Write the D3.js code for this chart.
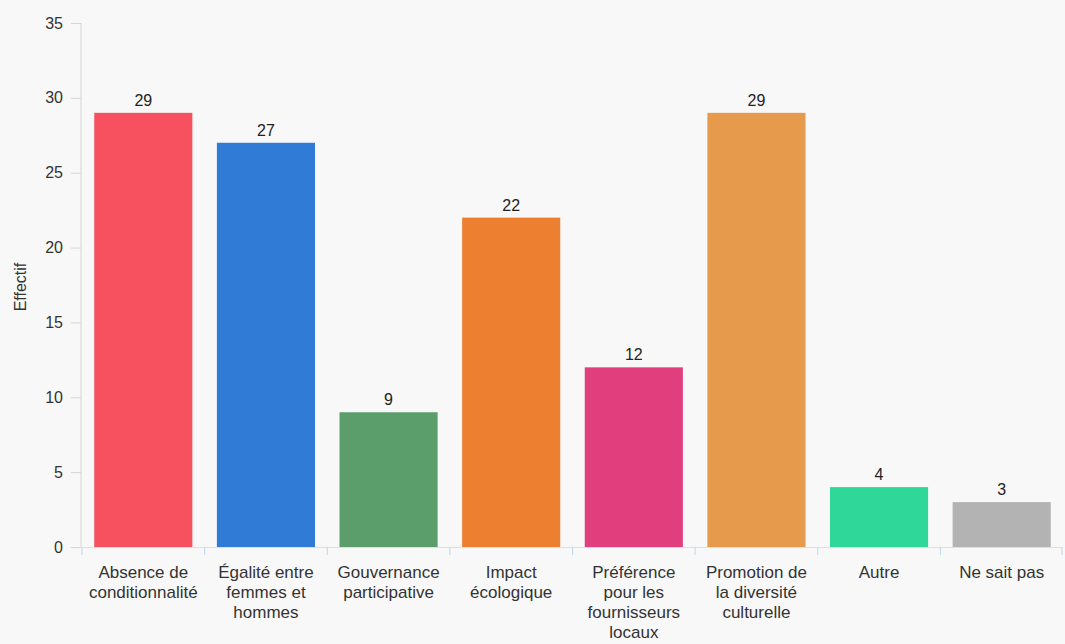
<!DOCTYPE html>
<html>
<head>
<meta charset="utf-8">
<script src="https://cdn.jsdelivr.net/npm/d3@7"></script>
<style>
  html, body { margin: 0; padding: 0; background: #f8f8f8; }
  svg { display: block; font-family: "Liberation Sans", Arial, sans-serif; }
</style>
</head>
<body>
<svg id="chart" width="1065" height="644"></svg>
<script>
// Category labels, one entry per bar (lines split for wrapping)
const categories = [
  ["Absence de", "conditionnalité"],
  ["Égalité entre", "femmes et", "hommes"],
  ["Gouvernance", "participative"],
  ["Impact", "écologique"],
  ["Préférence", "pour les", "fournisseurs", "locaux"],
  ["Promotion de", "la diversité", "culturelle"],
  ["Autre"],
  ["Ne sait pas"]
];
const counts = [29, 27, 9, 22, 12, 29, 4, 3];
const barColors = ["#f7505f", "#2f7bd6", "#5b9e6b", "#ec7f30", "#e03e7c", "#e69a4b", "#2fd898", "#b3b3b3"];
const yTicks = [0, 5, 10, 15, 20, 25, 30, 35];
const yTitle = "Effectif";

const svg = d3.select("#chart");
const margin = { top: 23, left: 82, right: 2, bottom: 97 };
const W = 1065, H = 644;

const keys = categories.map((c, i) => i);
const x = d3.scaleBand().domain(keys).range([margin.left, W - margin.right]).paddingInner(0.2).paddingOuter(0.1);
const y = d3.scaleLinear().domain([0, 35]).range([H - margin.bottom, margin.top]);

// Y axis
const yAxis = svg.append("g")
  .attr("transform", `translate(${margin.left - 1},0)`)
  .call(d3.axisLeft(y).tickValues(yTicks).tickSize(10).tickPadding(8));
yAxis.select(".domain").attr("stroke", "#d6d6d6").attr("d", `M0,${y(35)}V${y(0)}`);
yAxis.selectAll(".tick line").attr("stroke", "#d6d6d6");
yAxis.selectAll(".tick text").attr("fill", "#333").attr("font-size", 16)
  .attr("font-family", "Liberation Sans, Arial, sans-serif");

svg.append("text")
  .attr("transform", `translate(26,${(y(35) + y(0)) / 2 + 2}) rotate(-90)`)
  .attr("text-anchor", "middle")
  .attr("fill", "#333")
  .attr("font-size", 16)
  .text(yTitle);

// X axis baseline and band ticks
const baseY = y(0);
svg.append("line")
  .attr("x1", margin.left).attr("x2", W - margin.right)
  .attr("y1", baseY + 0.5).attr("y2", baseY + 0.5)
  .attr("stroke", "#cfe3f2");
const boundaries = keys.map(k => x(k) - x.step() * x.paddingInner() / 2).concat([W - margin.right - 1]);
svg.selectAll(".xtick").data(boundaries).join("line")
  .attr("class", "xtick")
  .attr("x1", d => d).attr("x2", d => d)
  .attr("y1", baseY).attr("y2", baseY + 8)
  .attr("stroke", "#bcd8ee");

// Bars
svg.selectAll(".bar").data(counts).join("rect")
  .attr("class", "bar")
  .attr("x", (d, i) => x(i))
  .attr("y", d => y(d))
  .attr("width", x.bandwidth())
  .attr("height", d => y(0) - y(d))
  .attr("fill", (d, i) => barColors[i]);

// Value labels
svg.selectAll(".val").data(counts).join("text")
  .attr("class", "val")
  .attr("x", (d, i) => x(i) + x.bandwidth() / 2)
  .attr("y", d => y(d) - 7)
  .attr("text-anchor", "middle")
  .attr("fill", "#222")
  .attr("font-size", 16)
  .text(d => d);

// Category labels
const lab = svg.selectAll(".cat").data(categories).join("text")
  .attr("class", "cat")
  .attr("text-anchor", "middle")
  .attr("fill", "#333")
  .attr("font-size", 17)
  .attr("y", baseY + 31);
lab.each(function(lines, i) {
  const t = d3.select(this);
  lines.forEach((ln, j) => {
    t.append("tspan")
      .attr("x", x(i) + x.bandwidth() / 2)
      .attr("dy", j === 0 ? 0 : 20)
      .text(ln);
  });
});
</script>
</body>
</html>
